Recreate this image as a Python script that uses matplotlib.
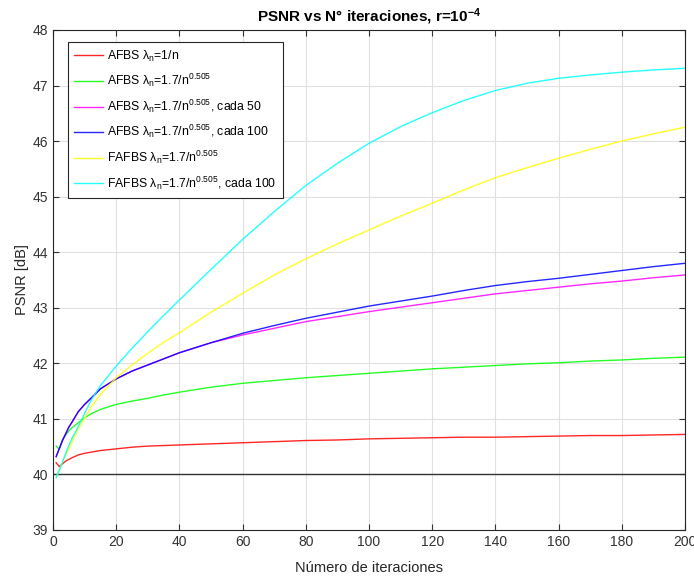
import numpy as np
import matplotlib
matplotlib.use('Agg')
import matplotlib.pyplot as plt

plt.rcParams['font.family'] = ['Liberation Sans', 'DejaVu Sans']
plt.rcParams['mathtext.fontset'] = 'custom'
plt.rcParams['mathtext.rm'] = 'Liberation Sans'
plt.rcParams['mathtext.it'] = 'Liberation Sans'
plt.rcParams['mathtext.default'] = 'regular'

# iteration numbers where PSNR was sampled
n_iter = [1, 2, 3, 4, 5, 6, 8, 10, 12, 15, 20, 25, 30, 35, 40, 50, 60, 70, 80, 90,
          100, 110, 120, 130, 140, 150, 160, 170, 180, 190, 200]

psnr_afbs = [40.21, 40.14, 40.19, 40.24, 40.27, 40.30, 40.35, 40.38, 40.40, 40.43,
             40.46, 40.49, 40.51, 40.52, 40.53, 40.55, 40.57, 40.59, 40.61, 40.62,
             40.64, 40.65, 40.66, 40.67, 40.67, 40.68, 40.69, 40.70, 40.70, 40.71, 40.72]
psnr_afbs_17 = [40.51, 40.45, 40.63, 40.71, 40.78, 40.84, 40.93, 41.02, 41.09, 41.17,
                41.26, 41.32, 41.37, 41.43, 41.48, 41.57, 41.64, 41.69, 41.74, 41.78,
                41.82, 41.86, 41.90, 41.93, 41.96, 41.99, 42.01, 42.04, 42.06, 42.09, 42.11]
psnr_afbs_50 = [40.32, 40.47, 40.61, 40.73, 40.85, 40.94, 41.13, 41.26, 41.37, 41.54,
                41.72, 41.86, 41.97, 42.08, 42.19, 42.37, 42.51, 42.63, 42.75, 42.84,
                42.93, 43.01, 43.09, 43.17, 43.25, 43.31, 43.37, 43.43, 43.48, 43.54, 43.59]
psnr_afbs_100 = [40.32, 40.47, 40.61, 40.73, 40.85, 40.94, 41.13, 41.26, 41.37, 41.54,
                 41.72, 41.86, 41.97, 42.08, 42.19, 42.37, 42.54, 42.68, 42.81, 42.92,
                 43.03, 43.12, 43.21, 43.31, 43.40, 43.47, 43.53, 43.60, 43.67, 43.74, 43.80]
psnr_fafbs = [39.94, 40.08, 40.22, 40.36, 40.46, 40.58, 40.82, 41.01, 41.21, 41.44,
              41.74, 41.97, 42.18, 42.38, 42.55, 42.92, 43.26, 43.59, 43.88, 44.15,
              44.40, 44.65, 44.88, 45.12, 45.34, 45.52, 45.69, 45.85, 46.00, 46.13, 46.25]
psnr_fafbs_100 = [39.94, 40.08, 40.22, 40.38, 40.52, 40.65, 40.86, 41.10, 41.33, 41.60,
                  41.95, 42.27, 42.57, 42.86, 43.14, 43.69, 44.23, 44.73, 45.20, 45.60,
                  45.96, 46.26, 46.51, 46.73, 46.91, 47.04, 47.13, 47.19, 47.24, 47.28, 47.31]
psnr_ref = 40.0

labels = [r'AFBS $\lambda_n$=1/n',
          r'AFBS $\lambda_n$=1.7/n$^{0.505}$',
          r'AFBS $\lambda_n$=1.7/n$^{0.505}$, cada 50',
          r'AFBS $\lambda_n$=1.7/n$^{0.505}$, cada 100',
          r'FAFBS $\lambda_n$=1.7/n$^{0.505}$',
          r'FAFBS $\lambda_n$=1.7/n$^{0.505}$, cada 100']
colors = ['#ff0000', '#00ff00', '#ff00ff', '#0000ff', '#ffff00', '#00ffff']
series = [psnr_afbs, psnr_afbs_17, psnr_afbs_50, psnr_afbs_100, psnr_fafbs, psnr_fafbs_100]

fig = plt.figure(figsize=(6.94, 5.76), dpi=100)
ax = fig.add_axes([0.0764, 0.0799, 0.9106, 0.8681])

ax.axhline(psnr_ref, color='#333333', lw=1.0)
for y, c, lab in zip(series, colors, labels):
    ax.plot(n_iter, y, color=c, lw=1.0, label=lab, alpha=0.85)

ax.set_xlim(0, 200)
ax.set_ylim(39, 48)
ax.set_xticks(np.arange(0, 201, 20))
ax.set_yticks(np.arange(39, 49, 1))
ax.grid(True, color='#e0e0e0', lw=0.8)
ax.set_axisbelow(True)
ax.tick_params(direction='in', top=True, right=True, length=4, labelsize=10,
               colors='#333333', width=0.8)
for s in ax.spines.values():
    s.set_color('#262626')
    s.set_linewidth(0.8)

ax.set_xlabel('Número de iteraciones', fontsize=10.5, color='#262626', labelpad=9)
ax.set_ylabel('PSNR [dB]', fontsize=10.5, color='#262626', labelpad=2.5)
ax.set_title(r'PSNR vs N° iteraciones, r=10$^{-4}$', fontsize=11, fontweight='bold',
             color='black', pad=6)

leg = ax.legend(loc='upper left', bbox_to_anchor=(0.0237, 0.975), borderaxespad=0,
                fontsize=8.8, fancybox=False, edgecolor='#262626', framealpha=1,
                handlelength=2.4, handletextpad=0.3, labelspacing=0.68, borderpad=0.5)
leg.get_frame().set_linewidth(0.8)

fig.savefig('out.png', dpi=100)
